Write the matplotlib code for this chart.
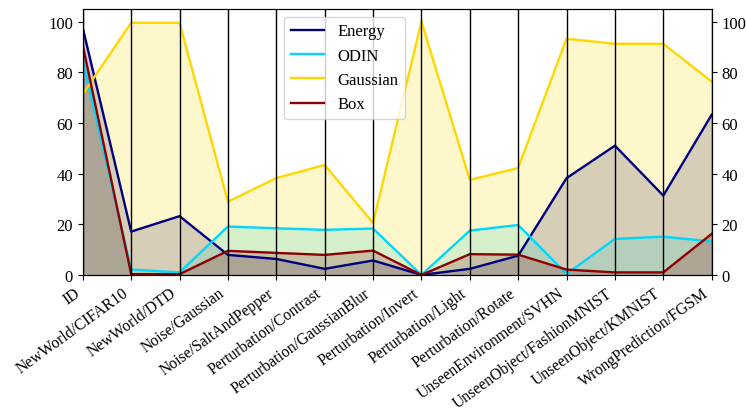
import numpy as np
import matplotlib
matplotlib.use("Agg")
import matplotlib.pyplot as plt

plt.rcParams['font.family'] = ['Liberation Serif', 'DejaVu Serif']

categories = ["ID", "NewWorld/CIFAR10", "NewWorld/DTD", "Noise/Gaussian",
              "Noise/SaltAndPepper", "Perturbation/Contrast",
              "Perturbation/GaussianBlur", "Perturbation/Invert",
              "Perturbation/Light", "Perturbation/Rotate",
              "UnseenEnvironment/SVHN", "UnseenObject/FashionMNIST",
              "UnseenObject/KMNIST", "WrongPrediction/FGSM"]

energy = [97.4, 17.1, 23.2, 7.9, 6.3, 2.4, 5.7, 0.0, 2.4, 7.6, 38.2, 51.0, 31.3, 63.2]
odin = [84.6, 2.1, 1.0, 19.1, 18.4, 17.8, 18.3, 0.0, 17.5, 19.7, 0.4, 14.2, 15.1, 13.2]
gaussian = [71.4, 99.5, 99.5, 28.9, 38.2, 43.4, 20.5, 100.0, 37.5, 42.2, 93.2, 91.2, 91.2, 76.3]
box = [90.5, 0.3, 0.3, 9.5, 8.7, 7.9, 9.6, 0.0, 8.2, 8.0, 2.1, 1.0, 1.0, 16.2]

series = [("Energy", energy, "navy"),
          ("ODIN", odin, "#00d7ff"),
          ("Gaussian", gaussian, "gold"),
          ("Box", box, "darkred")]

fig = plt.figure(figsize=(7.46, 4.10), dpi=100)
ax = fig.add_axes([0.111, 0.327, 0.843, 0.649])

x = np.arange(len(categories))
for name, vals, color in series:
    ax.plot(x, vals, color=color, linewidth=1.7, label=name)
    ax.fill_between(x, vals, 0, color=color, alpha=0.2, linewidth=0)

# vertical axis line at every category
for xi in x:
    ax.axvline(xi, color="black", linewidth=1.0)

ax.set_xlim(0, len(categories) - 1)
ax.set_ylim(0, 105)
ax.set_xticks(x)
ax.set_xticklabels(categories, rotation=36, ha="right", fontsize=11.3)
ax.set_yticks([0, 20, 40, 60, 80, 100])
ax.tick_params(axis="y", labelsize=12)

ax2 = ax.twinx()
ax2.set_ylim(ax.get_ylim())
ax2.set_yticks([0, 20, 40, 60, 80, 100])
ax2.tick_params(labelsize=12)

ax.legend(loc="upper left", bbox_to_anchor=(0.32, 0.97), borderaxespad=0, fontsize=12)

fig.savefig("out.png", dpi=100)
